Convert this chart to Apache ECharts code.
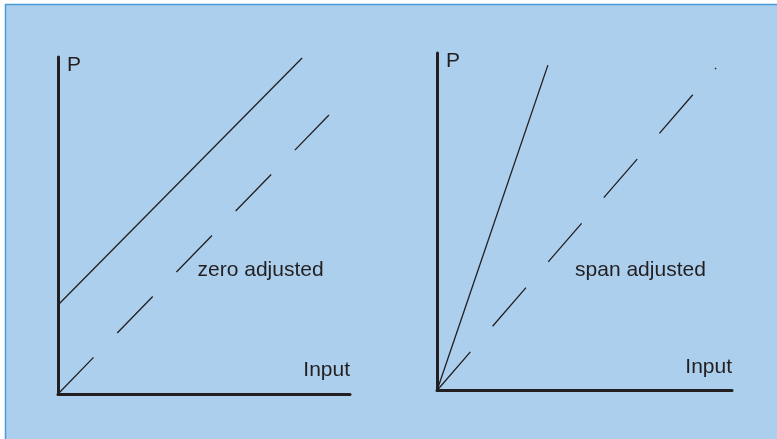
<!DOCTYPE html>
<html>
<head>
<meta charset="utf-8">
<script src="https://cdn.jsdelivr.net/npm/echarts@6/dist/echarts.min.js"></script>
<style>
html,body{margin:0;padding:0;background:#ffffff;}
#c{width:777px;height:439px;}
</style>
</head>
<body>
<div id="c"></div>
<script>
// Panel 1: zero adjusted
const zeroSolid = [[0, 2.64], [8.36, 9.97]];
const zeroDashed = [[0, 0], [9.28, 8.28]];
const zeroLabel = {text: 'zero adjusted', at: [4.78, 3.35]};
// Panel 2: span adjusted
const spanSolid = [[0, 0], [3.76, 9.64]];
const spanDashed = [[0, 0], [9.46, 9.56]];
const spanLabel = {text: 'span adjusted', at: [4.68, 3.24]};
const yName = 'P';
const xName = 'Input';

const INK = '#231f20';
const FONT = 'Liberation Sans';
const FS = 21;

function xAx(gi) {
  return {
    type: 'value', gridIndex: gi, min: 0, max: 10,
    axisLine: {show: true, onZero: false, lineStyle: {color: INK, width: 3}},
    axisTick: {show: false}, axisLabel: {show: false}, splitLine: {show: false},
    name: xName, nameLocation: 'end', nameGap: 0,
    nameTextStyle: {color: INK, fontFamily: FONT, fontSize: FS, align: 'right', verticalAlign: 'bottom', padding: [0, 0, 13, 0]}
  };
}
function yAx(gi) {
  return {
    type: 'value', gridIndex: gi, min: 0, max: 10,
    axisLine: {show: true, onZero: false, lineStyle: {color: INK, width: 3}},
    axisTick: {show: false}, axisLabel: {show: false}, splitLine: {show: false},
    name: yName, nameLocation: 'end', nameGap: 2,
    nameTextStyle: {color: INK, fontFamily: FONT, fontSize: FS, align: 'left', verticalAlign: 'top', padding: [0, 0, 0, 9]}
  };
}
function line(gi, data, dashed) {
  return {
    type: 'line', xAxisIndex: gi, yAxisIndex: gi, data: data,
    symbol: 'none', silent: true, animation: false,
    lineStyle: {color: INK, width: 1.3, type: dashed ? [51, 34] : 'solid'}
  };
}

const chart = echarts.init(document.getElementById('c'), null, {renderer: 'canvas'});
chart.setOption({
  animation: false,
  backgroundColor: '#ffffff',
  grid: [
    {left: 58, top: 57, right: 427, bottom: 45},
    {left: 437, top: 53, right: 45, bottom: 48.5}
  ],
  xAxis: [xAx(0), xAx(1)],
  yAxis: [yAx(0), yAx(1)],
  series: [
    line(0, zeroSolid, false),
    line(0, zeroDashed, true),
    line(1, spanSolid, false),
    line(1, spanDashed, true)
  ]
});

const p1 = chart.convertToPixel({gridIndex: 0}, zeroLabel.at);
const p2 = chart.convertToPixel({gridIndex: 1}, spanLabel.at);
chart.setOption({
  graphic: [
    {type: 'rect', z: -10, silent: true, shape: {x: 5.5, y: 4.5, width: 800, height: 500},
     style: {fill: '#abcfed', stroke: '#4a9bd8', lineWidth: 1.5}},
    {type: 'text', x: p1[0], y: p1[1], silent: true,
     style: {text: zeroLabel.text, fill: INK, font: FS + 'px "' + FONT + '"', align: 'left', verticalAlign: 'bottom'}},
    {type: 'text', x: p2[0], y: p2[1], silent: true,
     style: {text: spanLabel.text, fill: INK, font: FS + 'px "' + FONT + '"', align: 'left', verticalAlign: 'bottom'}}
  ]
});
</script>
</body>
</html>
